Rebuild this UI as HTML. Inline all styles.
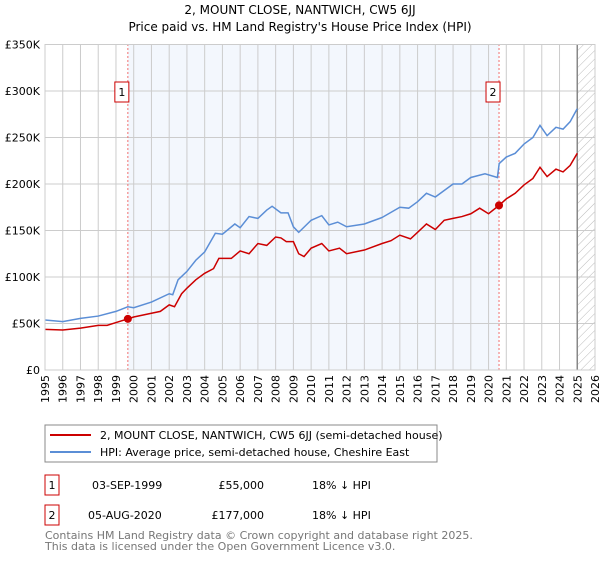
<!DOCTYPE html>
<html><head><meta charset="utf-8"><style>
body{margin:0;background:#fff;font-family:"DejaVu Sans","Liberation Sans",sans-serif;}
svg text{font-family:"DejaVu Sans","Liberation Sans",sans-serif;}
</style></head><body>
<svg width="600" height="560" xmlns="http://www.w3.org/2000/svg">
<defs><pattern id="hatch" width="6" height="6" patternUnits="userSpaceOnUse" patternTransform="rotate(45)"><line x1="0" y1="0" x2="0" y2="6" stroke="#bbb" stroke-width="1"/></pattern></defs>
<text x="300" y="14" text-anchor="middle" font-size="12">2, MOUNT CLOSE, NANTWICH, CW5 6JJ</text>
<text x="300" y="31" text-anchor="middle" font-size="12">Price paid vs. HM Land Registry's House Price Index (HPI)</text>
<g id="plot"></g>
<rect x="45" y="425" width="392" height="37" fill="#fff" stroke="#888"/>
<line x1="50" y1="435" x2="91" y2="435" stroke="#cc0000" stroke-width="2"/>
<text x="100" y="439" font-size="11">2, MOUNT CLOSE, NANTWICH, CW5 6JJ (semi-detached house)</text>
<line x1="50" y1="452" x2="91" y2="452" stroke="#5b8ed6" stroke-width="2"/>
<text x="100" y="456" font-size="11">HPI: Average price, semi-detached house, Cheshire East</text>
<rect x="45" y="475" width="14" height="20" fill="#fff" stroke="#cc0000"/>
<text x="52" y="489" font-size="11" text-anchor="middle">1</text>
<text x="92" y="489" font-size="11">03-SEP-1999</text>
<text x="264" y="489" font-size="11" text-anchor="end">£55,000</text>
<text x="312" y="489" font-size="11">18% ↓ HPI</text>
<rect x="45" y="505" width="14" height="20" fill="#fff" stroke="#cc0000"/>
<text x="52" y="519" font-size="11" text-anchor="middle">2</text>
<text x="88" y="519" font-size="11">05-AUG-2020</text>
<text x="264" y="519" font-size="11" text-anchor="end">£177,000</text>
<text x="312" y="519" font-size="11">18% ↓ HPI</text>
<text x="45" y="539" font-size="11" fill="#777">Contains HM Land Registry data © Crown copyright and database right 2025.</text>
<text x="45" y="550" font-size="11" fill="#777">This data is licensed under the Open Government Licence v3.0.</text>
</svg>
<script>
const yearTicks=[1995,1996,1997,1998,1999,2000,2001,2002,2003,2004,2005,2006,2007,2008,2009,2010,2011,2012,2013,2014,2015,2016,2017,2018,2019,2020,2021,2022,2023,2024,2025,2026];
const valueTicks=[0,50,100,150,200,250,300,350];
const valueTickLabels=["£0","£50K","£100K","£150K","£200K","£250K","£300K","£350K"];
const hpiYears=[1995,1996,1997,1998,1999,1999.67,2000,2001,2002,2002.2,2002.5,2003,2003.5,2004,2004.6,2005,2005.7,2006,2006.5,2007,2007.5,2007.8,2008.3,2008.7,2009,2009.3,2010,2010.6,2011,2011.5,2012,2013,2014,2015,2015.5,2016,2016.5,2017,2017.5,2018,2018.5,2019,2019.8,2020.5,2020.6,2021,2021.5,2022,2022.5,2022.9,2023.3,2023.8,2024.2,2024.6,2025];
const hpiValues=[53.7,52,55.5,58,63,68,67,73,82,81,97,106,118,127,147,146,157,153,165,163,172,176,169,169,154,148,161,166,156,159,154,157,164,175,174,181,190,186,193,200,200,207,211,207,222,229,233,243,250,263,252,261,259,267,281];
const propYears=[1995,1996,1997,1998,1998.5,1999,1999.67,2000,2001,2001.5,2002,2002.3,2002.7,2003,2003.5,2004,2004.5,2004.8,2005.5,2006,2006.5,2007,2007.5,2008,2008.3,2008.6,2009,2009.3,2009.6,2010,2010.6,2011,2011.6,2012,2013,2014,2014.5,2015,2015.6,2016,2016.5,2017,2017.5,2018,2018.5,2019,2019.5,2020,2020.59,2021,2021.5,2022,2022.5,2022.9,2023.3,2023.8,2024.2,2024.6,2025];
const propValues=[43.7,43,45,48,48,51,55,57,61,63,70,68,82,88,97,104,109,120,120,128,125,136,134,143,142,138,138,125,122,131,136,128,131,125,129,136,139,145,141,148,157,151,161,163,165,168,174,168,177,184,190,199,206,218,208,216,213,220,233];
const saleYears=[1999.67,2020.59];
const saleValues=[55,177];
const saleLabels=["1","2"];
const NS="http://www.w3.org/2000/svg";
const X=y=>45+(y-1995)*(550/31);
const Y=v=>370-v*(325.5/350);
const g=document.getElementById('plot');
function mk(t,a){const e=document.createElementNS(NS,t);for(const k in a)e.setAttribute(k,a[k]);g.appendChild(e);return e;}
let e;
e=mk('rect',{x:X(saleYears[0]),y:Y(350),width:X(saleYears[1])-X(saleYears[0]),height:Y(0)-Y(350),fill:'#eef3fc',opacity:0.7});


e=mk('rect',{x:X(2025),y:Y(350),width:X(2026)-X(2025),height:Y(0)-Y(350),fill:'url(#hatch)'});


yearTicks.forEach(y=>{
 e=mk('line',{x1:X(y),x2:X(y),y1:Y(0),y2:Y(350),stroke:'#ccc','stroke-width':1});
 
 
 const tx=X(y)+4, ty=375;
 e=mk('text',{x:tx,y:ty,transform:'rotate(-90 '+tx+' '+ty+')','text-anchor':'end','font-size':11});
 e.textContent=y;
 
 
});
valueTicks.forEach((v,i)=>{
 e=mk('line',{x1:X(1995),x2:X(2026),y1:Y(v),y2:Y(v),stroke:'#ccc','stroke-width':1});
 
 
 e=mk('text',{x:40,y:Y(v)+4,'text-anchor':'end','font-size':11});
 e.textContent=valueTickLabels[i];
 
 
});
e=mk('line',{x1:X(2025),x2:X(2025),y1:Y(0),y2:Y(350),stroke:'#888','stroke-width':1.5});


saleYears.forEach((y,i)=>{
 e=mk('line',{x1:X(y),x2:X(y),y1:Y(0),y2:Y(350),stroke:'#f07070','stroke-width':1,'stroke-dasharray':'2,2'});
 
 
 e=mk('rect',{x:X(y)-13,y:Y(300)-9,width:14,height:20,fill:'#fff',stroke:'#cc0000'});
 
 
 e=mk('text',{x:X(y)-6,y:Y(300)+5,'text-anchor':'middle','font-size':11});
 e.textContent=saleLabels[i];
 
 
});
e=mk('polyline',{points:hpiYears.map((y,i)=>X(y)+','+Y(hpiValues[i])).join(' '),fill:'none',stroke:'#5b8ed6','stroke-width':1.5});


e=mk('polyline',{points:propYears.map((y,i)=>X(y)+','+Y(propValues[i])).join(' '),fill:'none',stroke:'#cc0000','stroke-width':1.5});


saleYears.forEach((y,i)=>{
 e=mk('circle',{cx:X(y),cy:Y(saleValues[i]),r:4,fill:'#cc0000'});
 
 
});
e=mk('rect',{x:X(1995),y:Y(350),width:X(2026)-X(1995),height:Y(0)-Y(350),fill:'none',stroke:'#ccc'});


</script>
</body></html>
